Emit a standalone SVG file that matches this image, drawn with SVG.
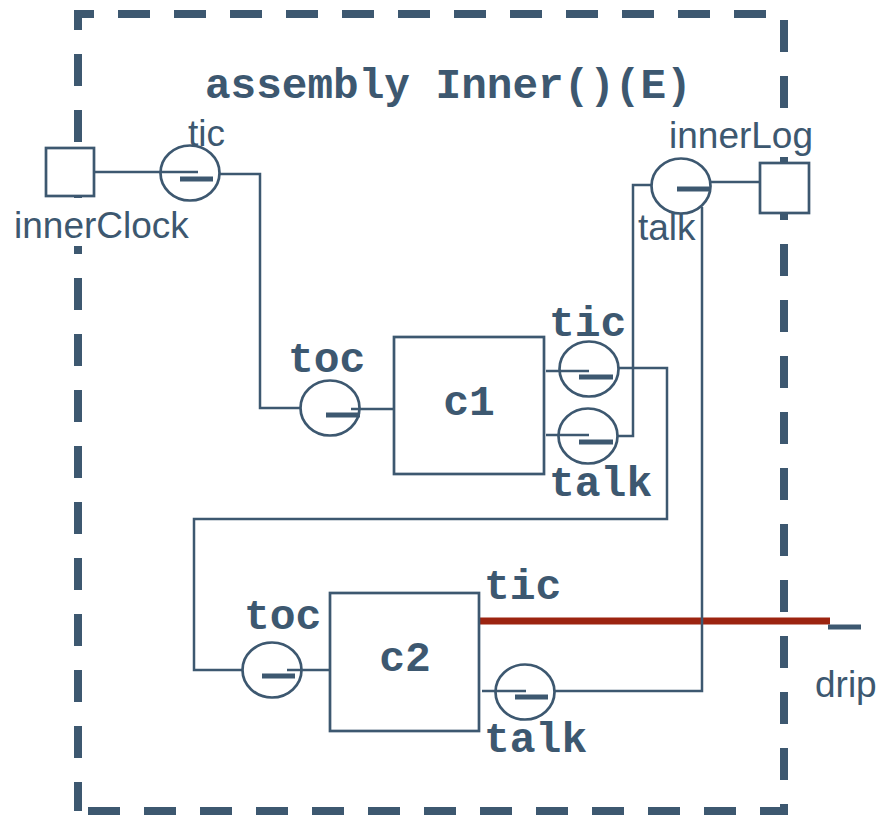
<svg xmlns="http://www.w3.org/2000/svg" width="877" height="817" viewBox="0 0 877 817">
<style>
.bd{fill:none;stroke:#3d5870;stroke-width:8}
.dash{stroke-dasharray:32 24}
.w{fill:none;stroke:#3d5870;stroke-width:2.5}
.box{fill:#fff;stroke:#3d5870;stroke-width:2.7}
.pc{fill:#fff;stroke:#3d5870;stroke-width:2.7}
.bar{stroke:#3d5870;stroke-width:5;fill:none}
.red{stroke:#9c2410;stroke-width:7;fill:none}
.mono{font-family:"Liberation Mono","Courier New",monospace;font-weight:bold;font-size:43px;fill:#3d5870}
.sans{font-family:"Liberation Sans",Arial,sans-serif;font-size:37px;fill:#3d5870}
.bg{fill:#fff}
</style>
<g id="assembly-boundary">
<path class="bd" d="M78,30 V14 H94"/>
<path class="bd dash" d="M118,14 H784"/>
<path class="bd dash" d="M784,20 V804"/>
<path class="bd" d="M784,804 V811 H760"/>
<path class="bd dash" d="M736,811 H78"/>
<path class="bd dash" d="M78,54 V811"/>
<text class="mono" x="205" y="98" style="font-size:42.7px">assembly Inner()(E)</text>
</g>
<g id="connectors">
<path class="w" d="M219,174 H260 V408 H301"/>
<path class="w" d="M619,368 H667 V519 H194 V670 H243"/>
<path class="w" d="M618,436 H633 V185 H652"/>
<path class="red" d="M479,621 H830"/>
<path class="w" d="M555,691 H702 V207"/>
<path class="bar" d="M828,627 H861"/>
<text class="sans" x="815" y="697">drip</text>
</g>
<g id="innerClock">
<rect class="bg" x="12" y="200" width="182" height="46"/>
<rect class="box" x="46" y="148" width="48" height="48"/>
<text class="sans" x="14" y="238">innerClock</text>
<ellipse class="pc" cx="190" cy="173" rx="29.5" ry="27.5"/>
<path class="w" d="M94,172 H198"/>
<path class="bar" d="M180,179 H213"/>
<text class="sans" x="188" y="146">tic</text>
</g>
<g id="innerLog">
<rect class="bg" x="666" y="112" width="150" height="45"/>
<rect class="box" x="760" y="163" width="49" height="50"/>
<text class="sans" x="669" y="148">innerLog</text>
<ellipse class="pc" cx="681" cy="186" rx="29.5" ry="27.5"/>
<path class="w" d="M711,182 H760"/>
<path class="bar" d="M677,189 H709"/>
<text class="sans" x="638" y="240">talk</text>
</g>
<g id="c1">
<rect class="box" x="394" y="337" width="150" height="137"/>
<text class="mono" x="469" y="415" text-anchor="middle">c1</text>
<ellipse class="pc" cx="330" cy="408" rx="29.5" ry="27.5"/>
<path class="w" d="M351,409 H394"/>
<path class="bar" d="M326,415 H360"/>
<text class="mono" x="288" y="372">toc</text>
<ellipse class="pc" cx="589" cy="369" rx="29.5" ry="27.5"/>
<path class="w" d="M546,371 H589"/>
<path class="bar" d="M579,377 H613"/>
<text class="mono" x="549" y="336">tic</text>
<ellipse class="pc" cx="588" cy="436" rx="29.5" ry="27.5"/>
<path class="w" d="M546,435 H589"/>
<path class="bar" d="M579,442 H613"/>
<text class="mono" x="549" y="496">talk</text>
</g>
<g id="c2">
<rect class="box" x="330" y="593" width="149" height="138"/>
<text class="mono" x="405" y="671" text-anchor="middle">c2</text>
<ellipse class="pc" cx="272" cy="670" rx="29.5" ry="27.5"/>
<path class="w" d="M287,670 H330"/>
<path class="bar" d="M262,676 H295"/>
<text class="mono" x="244" y="629">toc</text>
<ellipse class="pc" cx="525" cy="692" rx="29.5" ry="27.5"/>
<path class="w" d="M482,691 H526"/>
<path class="bar" d="M515,697 H548"/>
<text class="mono" x="484" y="599">tic</text>
<text class="mono" x="484" y="752">talk</text>
</g>
</svg>
